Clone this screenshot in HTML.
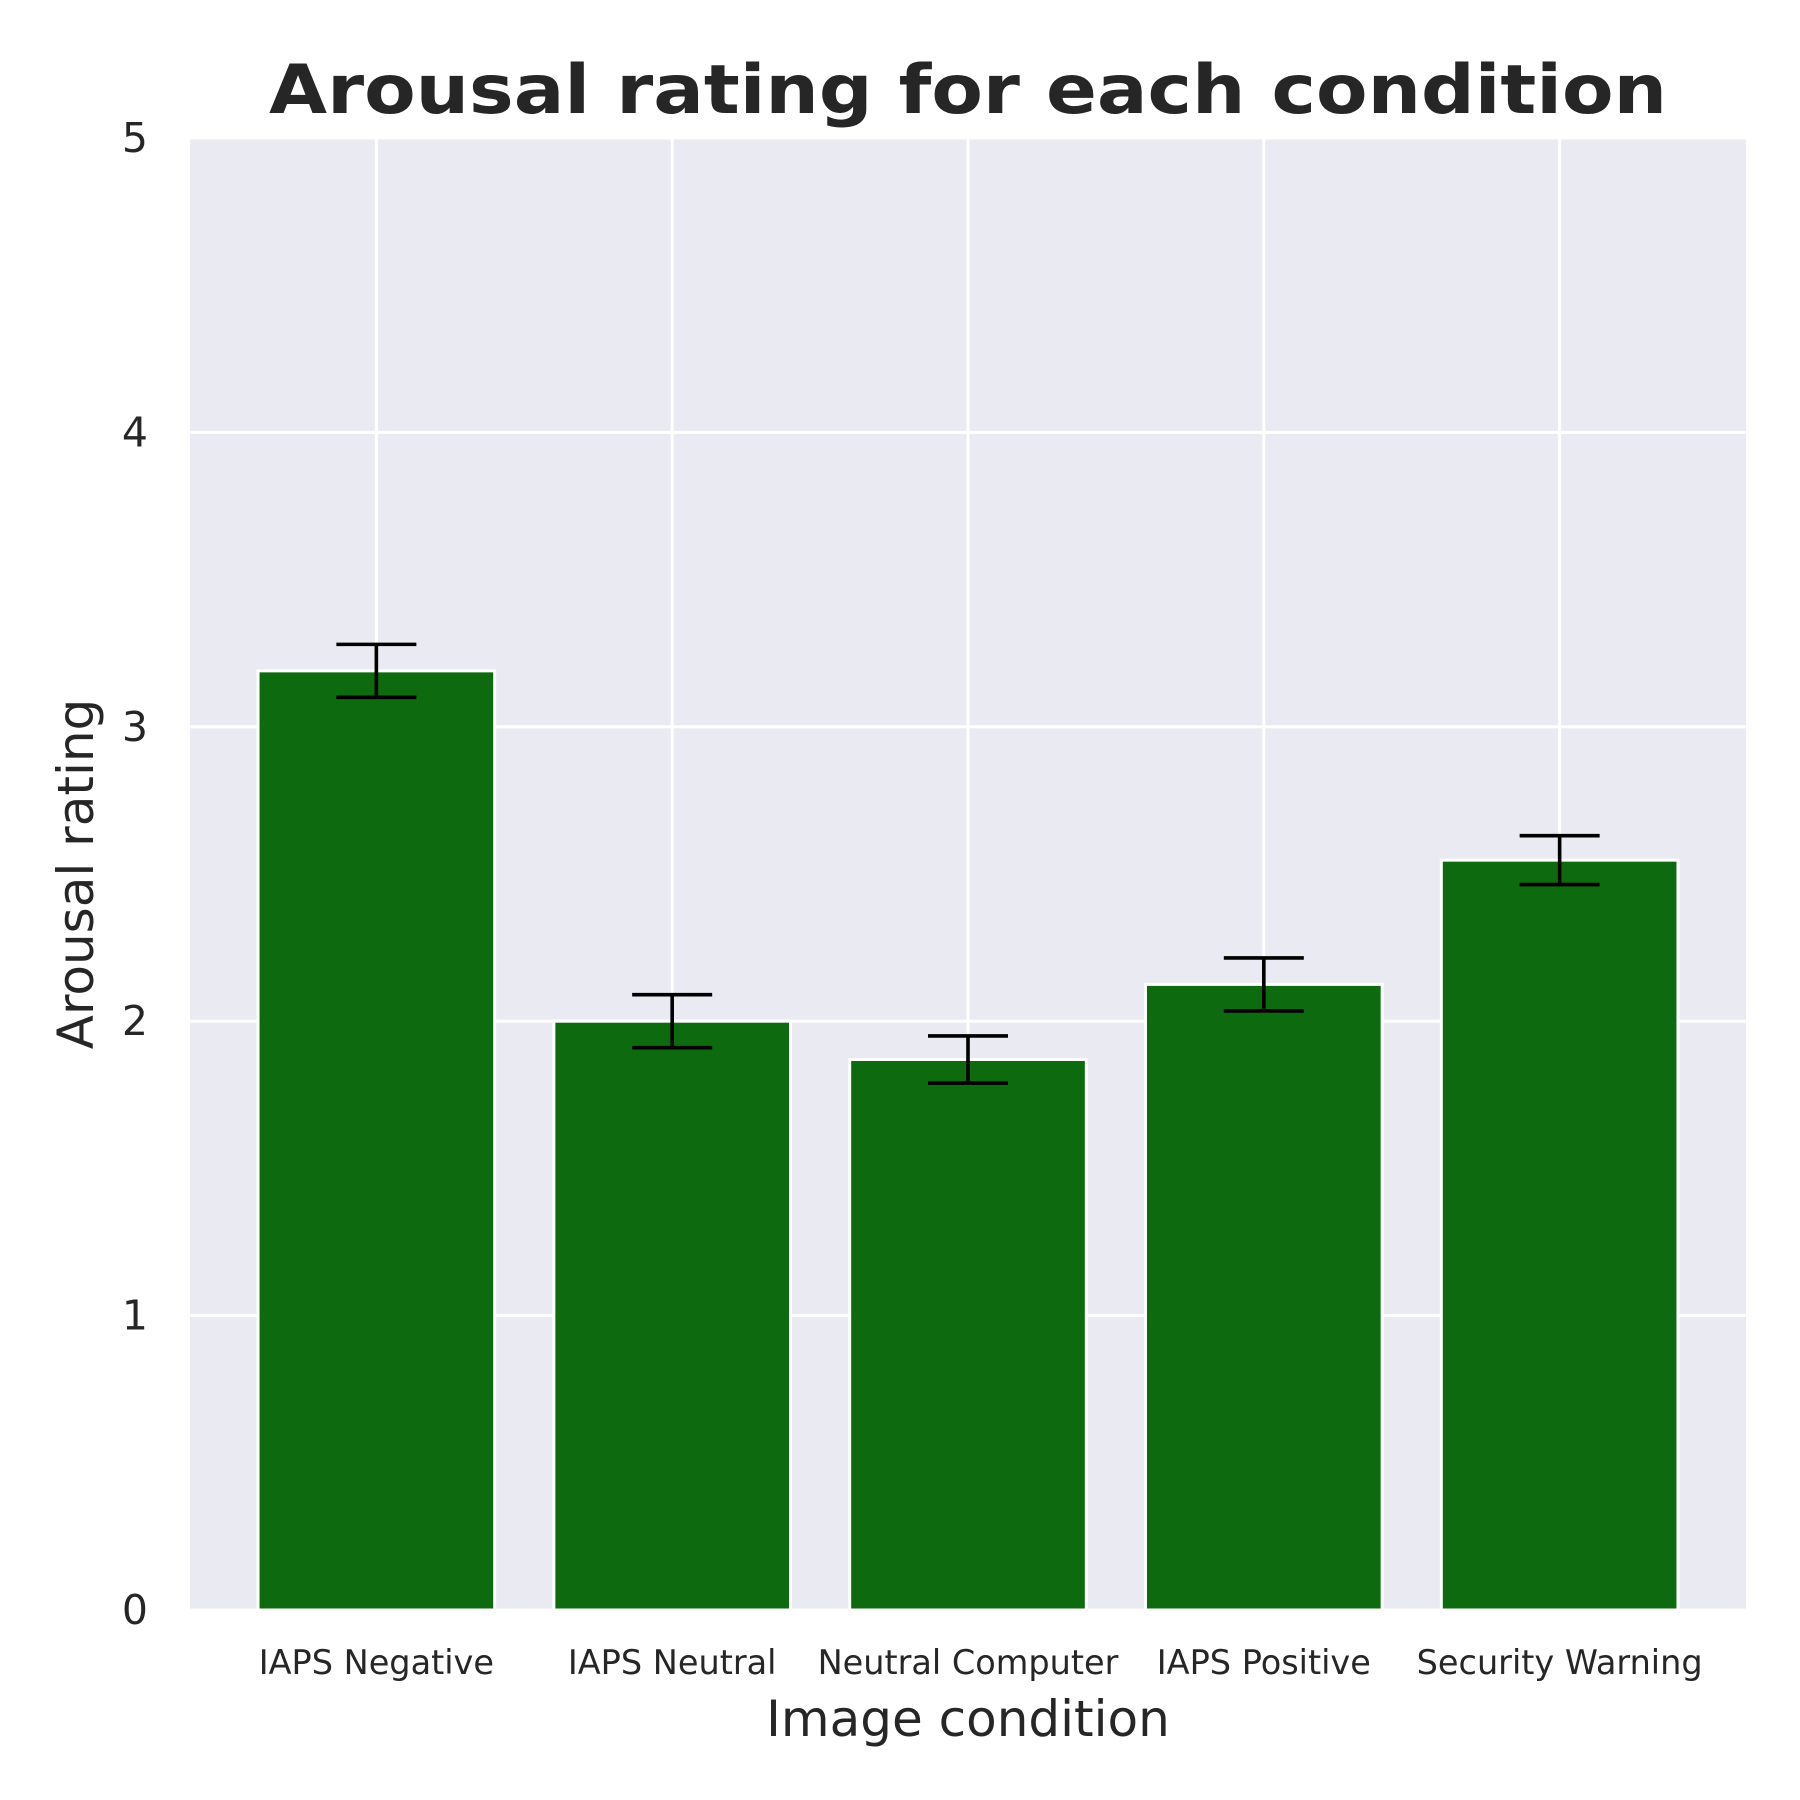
<!DOCTYPE html>
<html><head><meta charset="utf-8"><style>html,body{margin:0;padding:0;background:#fff}svg{display:block}text{font-family:"DejaVu Sans","Liberation Sans",sans-serif;fill:#262626}</style></head>
<body>
<svg id="chart" width="1800" height="1800" viewBox="0 0 1800 1800" xmlns="http://www.w3.org/2000/svg">
<text x="968" y="113" font-size="68" font-weight="bold" text-anchor="middle" textLength="1398" lengthAdjust="spacingAndGlyphs">Arousal rating for each condition</text>
<rect x="190" y="138" width="1556" height="1472" fill="#EAEAF2"/>
<g id="grid"></g><g id="bars"></g><g id="ticks"></g>
<text x="968" y="1736" font-size="50" text-anchor="middle">Image condition</text>
<text x="0" y="0" font-size="50" text-anchor="middle" transform="translate(93,874) rotate(-90)">Arousal rating</text>
</svg>
<script>
const categories = ["IAPS Negative","IAPS Neutral","Neutral Computer","IAPS Positive","Security Warning"];
const values = [3.19, 2.0, 1.87, 2.125, 2.547];
const errors = [0.09, 0.09, 0.08, 0.09, 0.083];
const yTicks = [0,1,2,3,4,5];
const yTickLabels = ["0","1","2","3","4","5"];
const NS="http://www.w3.org/2000/svg";
const L=190,R=1746,T=138,B=1610,xmin=-0.63,xmax=4.63,ymin=0,ymax=5;
function xs(v){return L+(v-xmin)/(xmax-xmin)*(R-L);}
function ys(v){return B-(v-ymin)/(ymax-ymin)*(B-T);}
function mk(tag,attrs,parent){const e=document.createElementNS(NS,tag);for(const k in attrs)e.setAttribute(k,attrs[k]);parent.appendChild(e);return e;}
const grid=document.getElementById('grid'),bars=document.getElementById('bars'),ticks=document.getElementById('ticks');
yTicks.forEach((t,i)=>{
  const g=mk('line',{x1:L,x2:R,y1:ys(t),y2:ys(t),stroke:'#fff','stroke-width':3},grid);
  
  
  const tx=mk('text',{x:148,y:ys(t)+14,'font-size':41,'text-anchor':'end'},ticks);
  tx.textContent=yTickLabels[i];
  
  
});
categories.forEach((c,i)=>{
  const g=mk('line',{x1:xs(i),x2:xs(i),y1:T,y2:B,stroke:'#fff','stroke-width':3},grid);
  
  
});
const bw=0.8;
categories.forEach((c,i)=>{
  const x0=xs(i-bw/2),x1=xs(i+bw/2);
  const b=mk('rect',{x:x0,y:ys(values[i]),width:x1-x0,height:ys(0)-ys(values[i]),fill:'#0D6A0F',stroke:'#fff','stroke-width':3},bars);
  
  
  const cx=xs(i),yt=ys(values[i]+errors[i]),yb=ys(values[i]-errors[i]),cw=40;
  const eb=mk('path',{d:`M${cx},${yt}V${yb}M${cx-cw},${yt}H${cx+cw}M${cx-cw},${yb}H${cx+cw}`,stroke:'#000','stroke-width':3.6,fill:'none'},bars);
  
  
  const tx=mk('text',{x:cx,y:1674,'font-size':33.5,'text-anchor':'middle'},ticks);
  tx.textContent=c;
  
  
});
</script>
</body></html>
